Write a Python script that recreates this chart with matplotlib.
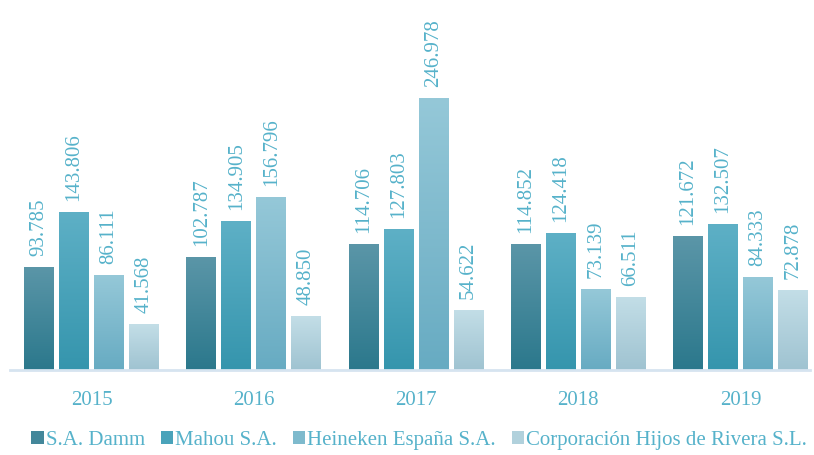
import numpy as np
import matplotlib.pyplot as plt
from matplotlib.colors import LinearSegmentedColormap
from matplotlib.patches import Patch

plt.rcParams["font.family"] = ["Liberation Serif", "DejaVu Serif"]

# ----------------------------
# Data
# ----------------------------
years = ["2015", "2016", "2017", "2018", "2019"]
companies = ["S.A. Damm", "Mahou S.A.", "Heineken España S.A.", "Corporación Hijos de Rivera S.L."]
damm = [93.785, 102.787, 114.706, 114.852, 121.672]
mahou = [143.806, 134.905, 127.803, 124.418, 132.507]
heineken = [86.111, 156.796, 246.978, 73.139, 84.333]
rivera = [41.568, 48.850, 54.622, 66.511, 72.878]
series = [damm, mahou, heineken, rivera]

# (bottom colour, top colour) for each bar gradient
grads = [
    ("#2b788c", "#5b96a8"),
    ("#3595ad", "#5eb0c6"),
    ("#67abc2", "#95c8d8"),
    ("#9fc3d1", "#c3dee7"),
]
TEXT = "#56b2ca"

GROUP_PX = 162.25
BAR_W = 30 / GROUP_PX
STEP = 35 / GROUP_PX
X0, X1 = -0.5, 4.43

fig = plt.figure(figsize=(8.14, 4.55), dpi=100)
ax = fig.add_axes([10.4 / 814, 85 / 455, (X1 - X0) * GROUP_PX / 814, 370 / 455])

x = np.arange(len(years))
grad_img = np.linspace(0, 1, 256).reshape(-1, 1)

for i, (vals, (c0, c1)) in enumerate(zip(series, grads)):
    cmap = LinearSegmentedColormap.from_list(f"g{i}", [c0, c1])
    xs = x + (i - 1.5) * STEP
    bars = ax.bar(xs, vals, width=BAR_W, color="none", edgecolor="none")
    for b, v in zip(bars, vals):
        bx = b.get_x()
        im = ax.imshow(grad_img, cmap=cmap, origin="lower", aspect="auto",
                       extent=[bx, bx + BAR_W, 0, v], zorder=2)
        im.set_clip_path(b)
        ax.text(bx + BAR_W / 2, v + 10, f"{v:.3f}", rotation=90, ha="center", va="bottom",
                fontsize=15, color=TEXT)

ax.set_xlim(X0, X1)
ax.set_ylim(0, 336)

ax.set_yticks([])
ax.set_xticks(x)
ax.set_xticklabels(years, fontsize=15, color=TEXT)
ax.tick_params(axis="x", length=0, pad=15)
for s in ["top", "left", "right"]:
    ax.spines[s].set_visible(False)
ax.spines["bottom"].set_color("#d6e4f0")
ax.spines["bottom"].set_linewidth(2)
ax.spines["bottom"].set_zorder(3)

handles = [Patch(facecolor=LinearSegmentedColormap.from_list("h", list(g))(0.5), edgecolor="none")
           for g in grads]
leg = fig.legend(handles, companies, loc="lower center", bbox_to_anchor=(0.515, -0.03), ncol=4,
                 frameon=False, fontsize=15, handlelength=0.6, handleheight=0.6,
                 handletextpad=0.1, columnspacing=0.75)
for t in leg.get_texts():
    t.set_color(TEXT)

fig.savefig("out.png", dpi=100)
